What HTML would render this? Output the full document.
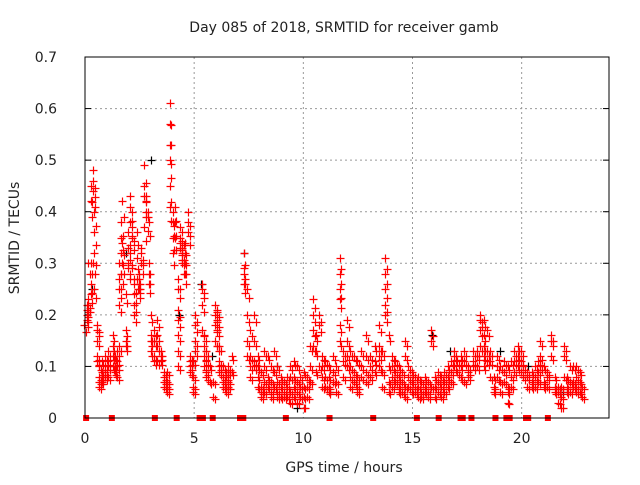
<!DOCTYPE html>
<html><head><meta charset="utf-8"><style>
body{margin:0;background:#fff;}
svg text{font-family:"DejaVu Sans","Liberation Sans",sans-serif;fill:#222;}
</style></head><body>
<svg id="chart" width="640" height="480" xmlns="http://www.w3.org/2000/svg">
<text x="344" y="32" font-size="14" text-anchor="middle">Day 085 of 2018, SRMTID for receiver gamb</text>
<text x="344" y="472" font-size="14" text-anchor="middle">GPS time / hours</text>
<text x="0" y="0" font-size="14" text-anchor="middle" transform="translate(19,238) rotate(-90)">SRMTID / TECUs</text>
<g id="grid"></g><g id="marks"></g>
<rect x="85" y="57" width="524" height="361" fill="none" stroke="#000" stroke-width="1"/>
</svg>
<script>
const xTicks=[0,5,10,15,20];
const yTicks=[0,0.1,0.2,0.3,0.4,0.5,0.6,0.7];
const yLabels=["0","0.1","0.2","0.3","0.4","0.5","0.6","0.7"];
const redRows=[
[0,.18],[0.12,.2,.22,.21,.19],[0.18,.3,.22,.23],[0.3,.45,.42,.3,.26,.24],[0.4,.48,.46,.44,.3],[0.47,.4,.36,.32,.25],
[0.58,.18,.17,.15,.12,.11],[0.7,.1,.08,.07,.06],[0.8,.09,.07,.11,.08],[0.95,.1,.12,.08,.09],[1.1,.11,.1,.13,.08],
[1.3,.16,.14,.12,.1],[1.4,.12,.1,.09],[1.5,.13,.1,.08,.11],[1.6,.27,.3,.25,.22,.14],[1.7,.38,.35,.32,.28],[1.75,.42,.34,.3],
[1.9,.15,.17,.14,.24],[2.0,.36,.33,.3,.29],[2.1,.43,.41,.38,.32],[2.2,.37,.35,.29],[2.3,.2,.22,.26,.24],[2.4,.36,.31,.27],
[2.5,.26,.25,.28,.27],[2.6,.33,.32,.3],[2.75,.49,.45,.43,.37],[2.85,.43,.42,.39],[2.95,.38,.3,.28,.26],[3.05,.2,.16,.15,.13],
[3.2,.17,.15,.12,.11],[3.35,.19,.16,.14,.11],[3.5,.12,.11,.13],[3.65,.09,.08,.06,.07],[3.8,.07,.05,.09,.06],
[3.92,.61,.57,.53,.5,.45,.41],[4.05,.38,.35,.32,.4],[4.15,.35,.41,.38],[4.3,.27,.25,.21,.19,.16,.13,.1],[4.4,.37,.35,.33,.34],
[4.5,.36,.33,.32,.3],[4.6,.3,.28,.34,.32],[4.75,.4,.38,.36],[4.85,.12,.1,.09,.11],[5.0,.11,.08,.06,.05],[5.1,.2,.18,.15,.13],
[5.4,.26,.25,.22,.17],[5.5,.16,.14,.12,.1],[5.6,.13,.11,.09,.08],[5.75,.1,.07],[5.9,.04,.07],[6.0,.22,.2,.18,.15],[6.1,.21,.19,.17,.14],
[6.2,.14,.11,.1,.09],[6.35,.1,.08,.07,.06],[6.5,.08,.06,.05,.09],[6.6,.07,.09,.06,.1],[6.75,.12,.09],
[7.3,.32,.29,.28,.26],[7.45,.25,.2,.15,.12],[7.6,.17,.12,.1,.08],[7.8,.2,.15,.11,.1],[7.95,.12,.1,.08,.06],[8.1,.09,.06,.04,.05],
[8.25,.13,.1,.07,.05],[8.4,.12,.08,.06],[8.55,.1,.07,.05,.04],[8.7,.13,.09,.06],[8.85,.1,.07,.05,.04],[9.0,.08,.06,.04],
[9.15,.07,.05,.04],[9.3,.08,.06,.04],[9.45,.1,.08,.05,.03],[9.6,.11,.08,.06,.04],[9.75,.1,.07,.05,.03],[9.9,.08,.06,.04],
[10.05,.09,.06,.04,.02],[10.2,.08,.06,.04],[10.35,.14,.1,.07],[10.5,.23,.2,.17,.14],[10.6,.16,.13,.09],[10.75,.2,.18,.1],
[10.9,.12,.1,.08,.06],[11.05,.11,.08,.06],[11.2,.1,.08,.06,.05],[11.4,.12,.09,.07],[11.55,.1,.07,.05],
[11.7,.31,.28,.25,.23,.18,.15],[11.85,.13,.11,.08],[12.05,.19,.15,.12,.1],[12.2,.13,.1,.08,.06],[12.35,.12,.09,.07],
[12.5,.11,.08,.06,.05],[12.7,.13,.1,.08],[12.9,.16,.12,.09,.07],[13.1,.12,.1,.08],[13.3,.14,.11,.09],[13.5,.18,.14,.12,.1],
[13.65,.13,.09,.06],[13.8,.31,.28,.25,.22,.2],[13.95,.16,.1,.07,.05],[14.1,.12,.1,.08,.06],[14.25,.11,.09,.07],
[14.4,.1,.08,.06,.05],[14.55,.09,.07,.05],[14.7,.15,.12,.04,.06],[14.85,.1,.08,.06],[15.0,.09,.07,.05],[15.15,.08,.06,.05],
[15.3,.08,.06,.04],[15.45,.07,.05,.04],[15.6,.08,.06,.05],[15.75,.07,.05,.04],[15.9,.17,.15,.06],[16.05,.08,.06,.04],
[16.2,.09,.07,.05],[16.35,.08,.06,.04],[16.5,.09,.07,.05],[16.65,.1,.08,.06],[16.8,.11,.09,.07],[16.95,.13,.12,.1],
[17.1,.11,.09],[17.25,.12,.1,.08],[17.4,.13,.07,.11],[17.6,.1,.09,.08],[17.8,.13,.11,.1],[18.0,.12,.1,.13],
[18.15,.2,.19,.17,.14],[18.3,.19,.16,.14,.12,.1],[18.45,.17,.13,.11],[18.6,.13,.11,.08],[18.75,.08,.06,.05],
[18.9,.12,.1,.08],[19.05,.1,.07,.05],[19.25,.11,.09,.07],[19.4,.1,.06,.03,.05],[19.55,.11,.08,.06],[19.7,.13,.11,.09],
[19.85,.14,.12,.1],[20.0,.13,.11,.09],[20.1,.1,.08],[20.3,.09,.08,.06],[20.5,.09,.06,.07],[20.65,.1,.08,.06],
[20.8,.11,.09,.07],[20.9,.15,.12,.1],[21.05,.1,.07,.06],[21.2,.09,.08,.06],[21.4,.16,.15,.12],[21.55,.08,.06,.05],
[21.7,.06,.03,.05],[21.85,.04,.02,.06],[22.0,.14,.12,.08],[22.1,.08,.05,.06],[22.25,.1,.07,.05],[22.4,.1,.07,.06],
[22.55,.1,.08,.06,.05],[22.7,.09,.07,.05],[22.8,.06,.04]
];
const blackRows=[[0.3,.25],[1.9,.32],[3.0,.5],[4.3,.2],[5.3,.26],[5.8,.12],[7.3,.32],[8.8,.1],[9.7,.02],[11.2,.05],[15.9,.16],[16.7,.13],[19.0,.13],[20.3,.1],[21.9,.05]];
const zeroTimes=[0.05,1.23,3.2,4.2,5.25,5.4,5.85,7.1,7.25,9.2,11.2,13.2,15.2,16.2,17.2,17.3,17.7,18.8,19.3,19.45,20.2,20.3,21.2];

const X0=85,X1=609,Y0=418,Y1=57,XMAX=24,YMAX=0.7;
const sx=t=>X0+t/XMAX*(X1-X0);
const sy=v=>Y0-v/YMAX*(Y0-Y1);
const NS="http://www.w3.org/2000/svg";
const grid=document.getElementById('grid'),marks=document.getElementById('marks');
function mk(tag,attrs,parent){const e=document.createElementNS(NS,tag);for(const k in attrs)e.setAttribute(k,attrs[k]);parent.appendChild(e);return e;}
xTicks.forEach(t=>{
  const x=sx(t);
  if(t>0){const g=mk('line',{x1:x,x2:x,y1:Y1,y2:Y0,stroke:'#999','stroke-dasharray':'2,3'},grid);
  
  }
  const tl=mk('text',{x:x,y:Y0+25,'font-size':14,'text-anchor':'middle'},grid);tl.textContent=t;
  
  
});
yTicks.forEach((v,i)=>{
  const y=sy(v);
  if(v>0&&v<0.7){const g=mk('line',{x1:X0,x2:X1,y1:y,y2:y,stroke:'#999','stroke-dasharray':'2,3'},grid);
  
  }
  mk('line',{x1:X0,x2:X0+6,y1:y,y2:y,stroke:'#000'},grid);
  mk('line',{x1:X1-6,x2:X1,y1:y,y2:y,stroke:'#000'},grid);
  const tl=mk('text',{x:X0-28,y:y+5,'font-size':14,'text-anchor':'end'},grid);tl.textContent=yLabels[i];
  
  
});
function plus(t,v,col,name){
  const x=Math.round(sx(t))+0.5,y=Math.round(sy(v))+0.5;
  const p=mk('path',{d:`M${x-4} ${y}h8M${x} ${y-4}v8`,stroke:col,'stroke-width':1.2,fill:'none'},marks);
  
  
}
blackRows.forEach(r=>{for(let i=1;i<r.length;i++)plus(r[0],r[i],'#000','black-point');});
redRows.forEach(r=>{for(let i=1;i<r.length;i++)plus(r[0]-0.04,r[i],'#f00','red-point');for(let i=1;i<r.length;i++)plus(r[0]+0.04,r[i]*0.93,'#f00','red-point');});
zeroTimes.forEach(t=>{
  const r=mk('rect',{x:sx(t)-3,y:Y0-3,width:6,height:6,fill:'#f00'},marks);
  
  
});
</script>
</body></html>
